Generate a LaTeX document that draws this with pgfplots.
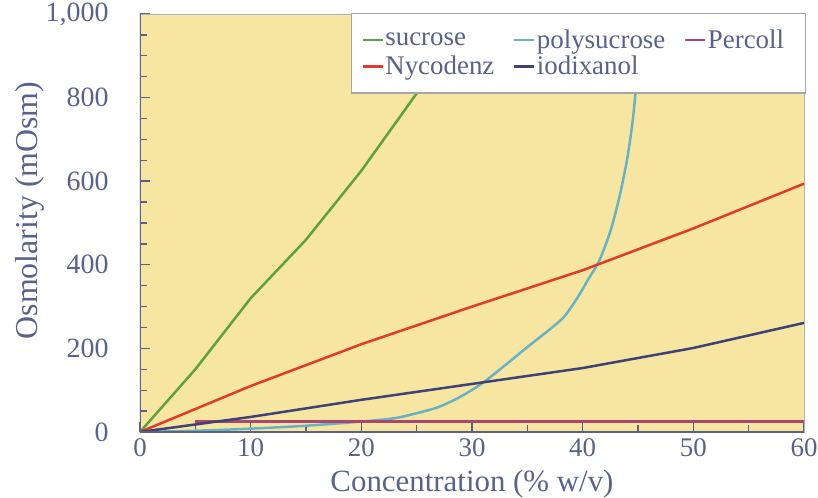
\documentclass[border=0pt]{standalone}
\usepackage{fontspec}
\setmainfont{Liberation Serif}
\usepackage{pgfplots}
\pgfplotsset{compat=1.18}
\definecolor{bg}{RGB}{246,230,162}
\definecolor{txt}{RGB}{88,98,138}
\definecolor{axcol}{RGB}{92,96,130}
\definecolor{csuc}{RGB}{96,160,62}
\definecolor{cpoly}{RGB}{106,178,194}
\definecolor{cperc}{RGB}{170,70,112}
\definecolor{cnyc}{RGB}{226,58,44}
\definecolor{ciod}{RGB}{62,66,116}
\begin{document}
\begin{tikzpicture}
\useasboundingbox (-140bp,-66bp) rectangle (678bp,432bp);
\begin{axis}[
  at={(0,0)}, anchor=south west,
  scale only axis, width=664bp, height=418bp,
  xmin=0, xmax=60, ymin=0, ymax=1000,
  xtick={0,10,...,60}, ytick={0,200,...,1000},
  minor x tick num=1, minor y tick num=3,
  tick align=inside, xtick pos=bottom, ytick pos=left,
  major tick length=10bp, minor tick length=7bp,
  axis background/.style={fill=bg},
  axis line style={gray!60, line width=0.8bp},
  tick style={axcol, line width=1.4bp},
  yticklabel style={font=\fontsize{28}{32}\selectfont, text=txt, xshift=-28bp},
  xticklabel style={font=\fontsize{27}{31}\selectfont, text=txt, yshift=-3bp},
  /pgf/number format/assume math mode=true,
  /pgf/number format/1000 sep={,},
  xlabel={Concentration (\% w/v)},
  ylabel={Osmolarity (mOsm)},
  every axis x label/.style={at={(axis description cs:0.5,0)}, yshift=-52bp, anchor=center, font=\fontsize{31}{35}\selectfont, text=txt},
  every axis y label/.style={at={(axis description cs:0,0.53)}, xshift=-110bp, rotate=90, anchor=center, font=\fontsize{32}{36}\selectfont, text=txt},
  legend columns=3,
  legend cell align=left,
  legend image code/.code={\draw[#1, line width=2.5bp] (0bp,0bp) -- (20bp,0bp);},
  legend style={at={(rel axis cs:1,1)}, anchor=north east, xshift=2bp, yshift=1bp,
    fill=white, draw=gray!70, line width=1.2bp, text=txt,
    font=\fontsize{27}{30}\selectfont,
    inner xsep=10bp, inner ysep=15bp,
    nodes={inner sep=1.5bp},
    /tikz/every even column/.append style={column sep=17bp},
    row sep=3bp},
  every axis plot/.append style={line width=2.5bp},
]
\addplot[csuc] coordinates {(0,0) (5,150) (10,320) (15,460) (20,625) (25,810) (30,1000)};
\addlegendentry{sucrose}
\addplot[cpoly, smooth] coordinates {(0,0) (5,3) (10,8) (15,15) (20,25) (23,33) (25,45) (27,60) (29,85) (31,118) (33,160) (35,203) (37,245) (38.3,275) (39.5,320) (40.5,365) (41.5,410) (42.5,480) (43.3,560) (44,650) (44.5,740) (44.8,820) (45,900) (45.1,1000)};
\addlegendentry{polysucrose}
\addplot[cperc] coordinates {(5,25) (60,25)};
\addlegendentry{\makebox[86bp][l]{Percoll}}
\addplot[cnyc] coordinates {(0,0) (10,110) (20,210) (30,300) (40,387) (50,487) (60,594)};
\addlegendentry{Nycodenz}
\addplot[ciod] coordinates {(0,0) (10,36) (20,77) (30,115) (40,153) (50,201) (60,261)};
\addlegendentry{iodixanol}
\draw[axcol, line width=2bp] (rel axis cs:0,1) -- (rel axis cs:0,0) -- (rel axis cs:1,0);
\end{axis}
\end{tikzpicture}
\end{document}
